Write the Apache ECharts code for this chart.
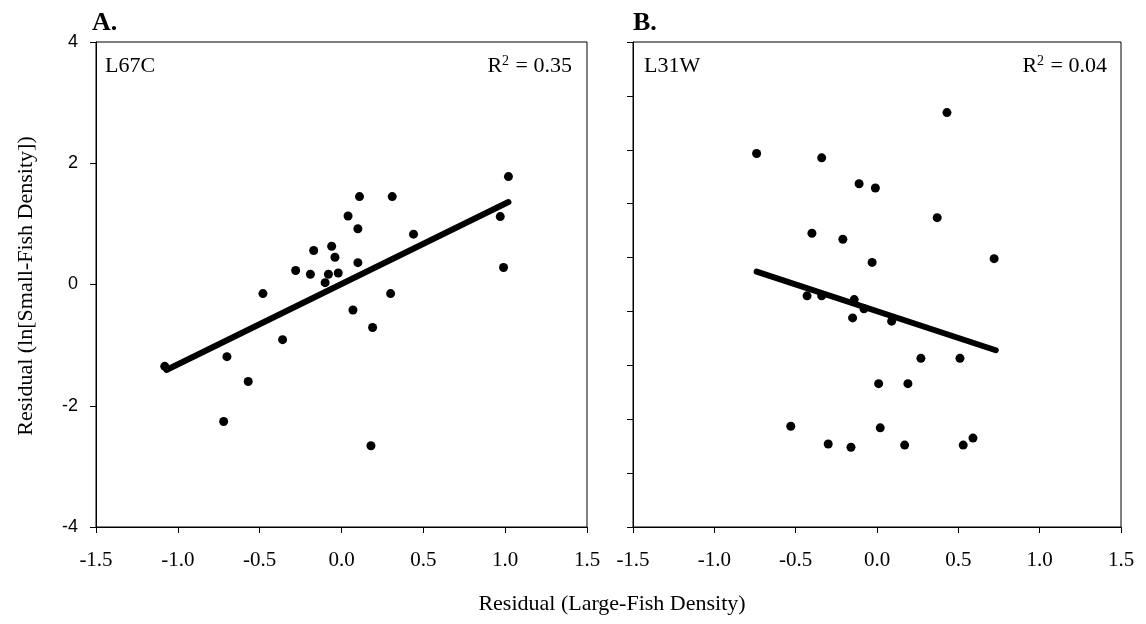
<!DOCTYPE html>
<html>
<head>
<meta charset="utf-8">
<script src="https://cdn.jsdelivr.net/npm/echarts@6/dist/echarts.min.js"></script>
<style>
  html, body { margin: 0; padding: 0; background: #fff; }
  #chart { width: 1146px; height: 624px; }
</style>
</head>
<body>
<div id="chart"></div>
<script>
// panel A - L67C
let xA = [1.02, 0.11, 0.31, 0.04, 0.97, 0.10, 0.44, -0.17, -0.06, -0.04, 0.10, 0.99, -0.28, -0.19,
  -0.08, -0.02, -0.10, -0.48, 0.30, 0.07, 0.19, -0.36, -0.70, -0.57, -1.08, -0.72, 0.18];
let yA = [1.78, 1.45, 1.45, 1.13, 1.12, 0.92, 0.83, 0.56, 0.63, 0.45, 0.36, 0.28, 0.23, 0.17,
  0.17, 0.19, 0.03, -0.15, -0.15, -0.42, -0.71, -0.91, -1.19, -1.60, -1.35, -2.26, -2.66];
let fitA = [[-1.07, -1.41], [1.02, 1.36]];

// panel B - L31W
let xB = [0.43, -0.74, -0.34, -0.11, -0.01, 0.37, -0.40, -0.21, -0.03, 0.72, -0.43, -0.34, -0.14,
  -0.08, -0.15, 0.09, 0.27, 0.51, 0.01, 0.19, -0.53, 0.02, 0.59, -0.30, -0.16, 0.17, 0.53];
let yB = [3.19, 2.43, 2.35, 1.87, 1.79, 1.24, 0.95, 0.84, 0.41, 0.48, -0.21, -0.21, -0.28,
  -0.45, -0.62, -0.68, -1.37, -1.37, -1.84, -1.84, -2.63, -2.66, -2.85, -2.96, -3.02, -2.98, -2.98];
let fitB = [[-0.74, 0.24], [0.73, -1.22]];

let xTicks = [-1.5, 1.5, 0.5];   // min, max, step
let yTicksA = [-4, 4, 2];
let yTicksB = [-4.5, 4.5, 1];    // unlabelled ticks on panel B

const serif = '"Liberation Serif", "Times New Roman", serif';
const sans = '"Liberation Sans", Arial, sans-serif';

function pairs(xs, ys) {
  return xs.map(function (v, i) { return [v, ys[i]]; });
}

function xAxisTpl(idx) {
  return {
    type: 'value', gridIndex: idx,
    min: xTicks[0], max: xTicks[1], interval: xTicks[2],
    axisLine: { show: true, onZero: false, lineStyle: { color: '#000', width: 1 } },
    axisTick: { show: true, length: 6, lineStyle: { color: '#000' } },
    axisLabel: {
      margin: 23, color: '#000', fontFamily: serif, fontSize: 21,
      formatter: function (v) { return v.toFixed(1); }
    },
    splitLine: { show: false }
  };
}

function yAxisTpl(idx, t, labels) {
  return {
    type: 'value', gridIndex: idx,
    min: t[0], max: t[1], interval: t[2],
    axisLine: { show: true, onZero: false, lineStyle: { color: '#000', width: 1 } },
    axisTick: { show: true, length: 6, lineStyle: { color: '#000' } },
    axisLabel: { show: labels, margin: 18, color: '#000', fontFamily: sans, fontSize: 18 },
    splitLine: { show: false }
  };
}

function scatterTpl(idx, data) {
  return {
    type: 'scatter', xAxisIndex: idx, yAxisIndex: idx,
    data: data, symbolSize: 9, itemStyle: { color: '#000', opacity: 1 }, z: 3
  };
}

function fitTpl(idx, data) {
  return {
    type: 'line', xAxisIndex: idx, yAxisIndex: idx,
    data: data, showSymbol: false, symbol: 'none',
    lineStyle: { color: '#000', width: 6, cap: 'round' }, z: 4
  };
}

function txt(x, y, s, size, opts) {
  return {
    type: 'text', x: x, y: y, z: 10,
    style: Object.assign({
      text: s, fontFamily: serif, fontSize: size, fill: '#000',
      align: 'left', verticalAlign: 'middle'
    }, opts || {})
  };
}

function rText(x, val) {
  return txt(x, 66, '{n|R}{sup|2}{n| = ' + val + '}', 22, {
    align: 'right',
    rich: {
      n: { fontFamily: serif, fontSize: 22, fill: '#000' },
      sup: { fontFamily: serif, fontSize: 14, fill: '#000', verticalAlign: 'top', padding: [0, 1, 10, 0] }
    }
  });
}

let chart = echarts.init(document.getElementById('chart'));
let option = {
  backgroundColor: '#fff',
  animation: false,
  grid: [
    { left: 96, right: 559, top: 42, bottom: 97, show: true, borderColor: '#000', borderWidth: 1 },
    { left: 633, right: 25, top: 42, bottom: 97, show: true, borderColor: '#000', borderWidth: 1 }
  ],
  xAxis: [xAxisTpl(0), xAxisTpl(1)],
  yAxis: [yAxisTpl(0, yTicksA, true), yAxisTpl(1, yTicksB, false)],
  series: [scatterTpl(0, pairs(xA, yA)), fitTpl(0, fitA), scatterTpl(1, pairs(xB, yB)), fitTpl(1, fitB)],
  graphic: [
    txt(92, 23, 'A.', 26, { fontWeight: 'bold' }),
    txt(633, 23, 'B.', 26, { fontWeight: 'bold' }),
    txt(105, 66, 'L67C', 22),
    txt(644, 66, 'L31W', 22),
    rText(572, '0.35'),
    rText(1107, '0.04'),
    txt(612, 604, 'Residual (Large-Fish Density)', 22, { align: 'center' }),
    {
      type: 'text', x: 26, y: 286, rotation: Math.PI / 2,
      style: {
        text: 'Residual (ln[Small-Fish Density])', fontFamily: serif, fontSize: 22,
        fill: '#000', align: 'center', verticalAlign: 'middle'
      }
    }
  ]
};
chart.setOption(option);
</script>
</body>
</html>
